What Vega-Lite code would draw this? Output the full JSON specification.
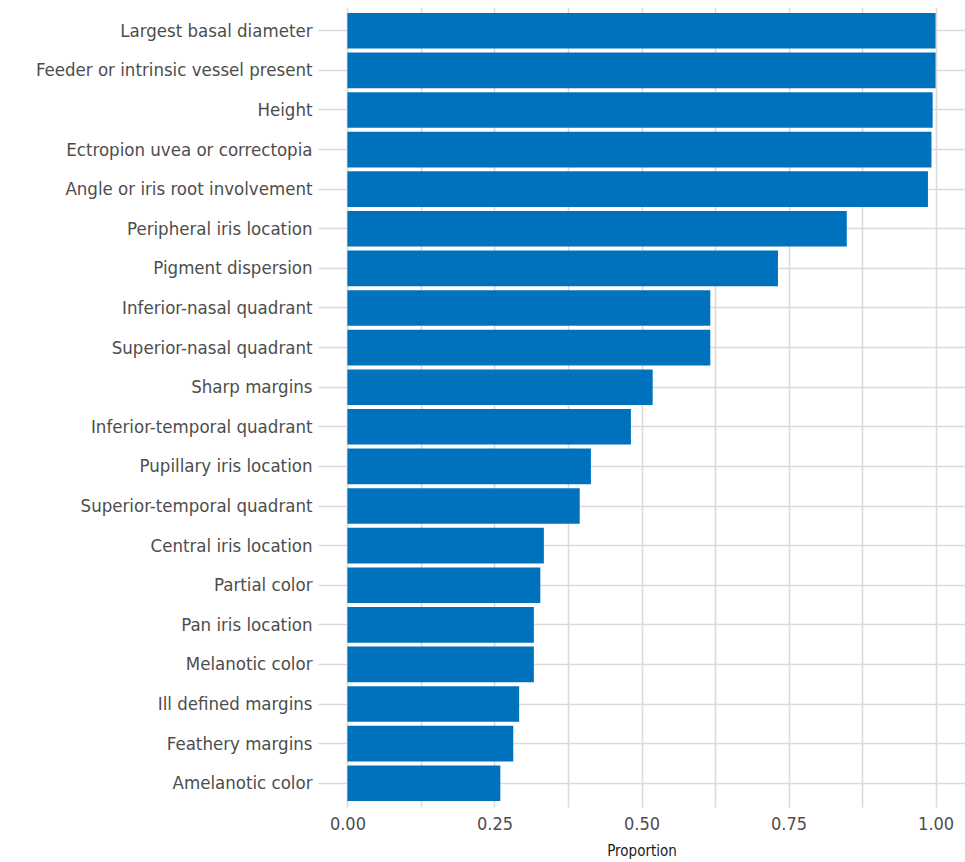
{
  "$schema": "https://vega.github.io/schema/vega-lite/v6.json",
  "autosize": "none",
  "width": 647,
  "height": 800,
  "padding": {"left": 318, "top": 7, "right": 0, "bottom": 55},
  "background": "white",
  "config": {"view": {"stroke": null}},
  "data": {"values": [
    {"feature": "Largest basal diameter", "proportion": 1.0},
    {"feature": "Feeder or intrinsic vessel present", "proportion": 1.0},
    {"feature": "Height", "proportion": 0.995},
    {"feature": "Ectropion uvea or correctopia", "proportion": 0.993},
    {"feature": "Angle or iris root involvement", "proportion": 0.987},
    {"feature": "Peripheral iris location", "proportion": 0.849},
    {"feature": "Pigment dispersion", "proportion": 0.732},
    {"feature": "Inferior-nasal quadrant", "proportion": 0.617},
    {"feature": "Superior-nasal quadrant", "proportion": 0.617},
    {"feature": "Sharp margins", "proportion": 0.519},
    {"feature": "Inferior-temporal quadrant", "proportion": 0.482},
    {"feature": "Pupillary iris location", "proportion": 0.414},
    {"feature": "Superior-temporal quadrant", "proportion": 0.395},
    {"feature": "Central iris location", "proportion": 0.334},
    {"feature": "Partial color", "proportion": 0.328},
    {"feature": "Pan iris location", "proportion": 0.317},
    {"feature": "Melanotic color", "proportion": 0.317},
    {"feature": "Ill defined margins", "proportion": 0.292},
    {"feature": "Feathery margins", "proportion": 0.282},
    {"feature": "Amelanotic color", "proportion": 0.26}
  ]},
  "mark": {"type": "bar", "color": "#0072bd"},
  "encoding": {
    "y": {
      "field": "feature",
      "type": "nominal",
      "sort": null,
      "scale": {"paddingInner": 0.1, "paddingOuter": 0.15},
      "axis": {
        "title": null,
        "domain": false,
        "ticks": false,
        "grid": true,
        "gridColor": "#dadada",
        "gridWidth": 1.6,
        "labelFont": "DejaVu Sans Condensed",
        "labelFontSize": 18.5,
        "labelColor": "#4d4d4d",
        "labelPadding": 6,
        "labelLimit": 400
      }
    },
    "x": {
      "field": "proportion",
      "type": "quantitative",
      "scale": {"domain": [-0.05, 1.05], "nice": false, "zero": false},
      "axis": {
        "title": "Proportion",
        "values": [0, 0.125, 0.25, 0.375, 0.5, 0.625, 0.75, 0.875, 1],
        "labelExpr": "(datum.value * 8) % 2 == 0 ? format(datum.value, '.2f') : ''",
        "domain": false,
        "ticks": false,
        "grid": true,
        "gridColor": "#dadada",
        "gridWidth": 1.6,
        "labelFont": "DejaVu Sans Condensed",
        "labelFontSize": 18,
        "labelColor": "#4d4d4d",
        "labelPadding": 8,
        "titleFont": "DejaVu Sans Condensed",
        "titleFontSize": 15,
        "titleFontWeight": "normal",
        "titleColor": "#1a1a1a",
        "titlePadding": 10
      }
    }
  }
}
